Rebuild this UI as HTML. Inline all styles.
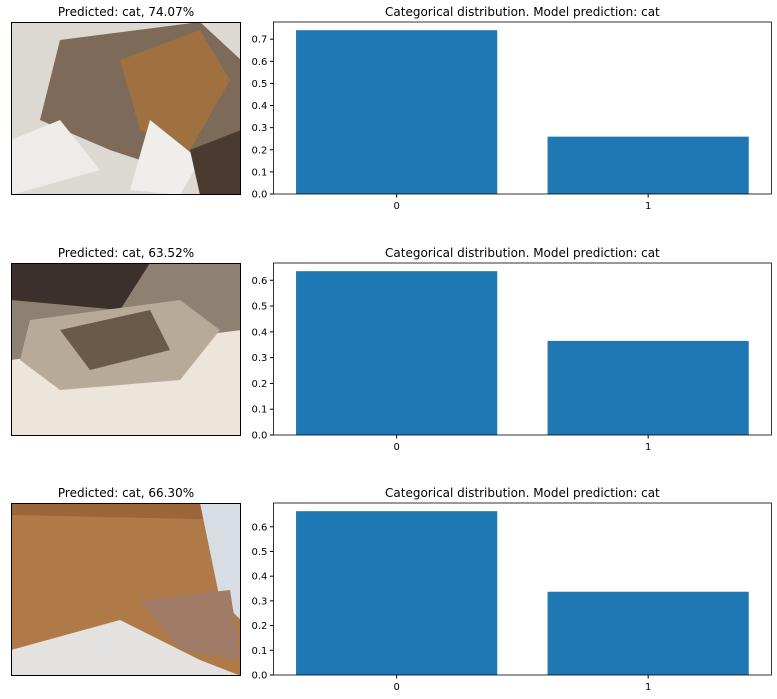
<!DOCTYPE html>
<html><head><meta charset="utf-8"><style>
body{margin:0;background:#fff;width:777px;height:699px;overflow:hidden;font-family:"DejaVu Sans","Liberation Sans",sans-serif}
svg{position:absolute;left:0;top:0}
</style></head><body>
<svg id="c" width="777" height="699">
<defs>
<clipPath id="cp1"><rect x="11.5" y="22.5" width="229" height="172"/></clipPath>
<clipPath id="cp2"><rect x="11.5" y="263.5" width="229" height="172"/></clipPath>
<clipPath id="cp3"><rect x="11.5" y="503.5" width="229" height="172"/></clipPath>
</defs>
<g clip-path="url(#cp1)">
<rect x="11" y="22" width="230" height="173" fill="#dcd9d3"/>
<path d="M60 40 L200 22 L241 60 L241 140 L170 170 L110 150 L40 120 Z" fill="#7d6a58"/>
<path d="M120 60 L200 30 L230 80 L190 150 L140 130 Z" fill="#a07040"/>
<path d="M150 120 L200 160 L180 195 L130 190 Z" fill="#efeeea"/>
<path d="M11 140 L60 120 L100 170 L11 195 Z" fill="#eeece8"/>
<path d="M190 150 L241 130 L241 195 L200 195 Z" fill="#4a3a30"/>
</g>
<g clip-path="url(#cp2)">
<rect x="11" y="263" width="230" height="173" fill="#8f8172"/>
<path d="M11 263 L150 263 L120 310 L11 300 Z" fill="#3b302c"/>
<path d="M11 360 L241 330 L241 436 L11 436 Z" fill="#ece5da"/>
<path d="M30 320 L180 300 L220 330 L180 380 L60 390 L20 360 Z" fill="#b8aa98"/>
<path d="M60 330 L150 310 L170 350 L90 370 Z" fill="#6a5a4a"/>
</g>
<g clip-path="url(#cp3)">
<rect x="11" y="503" width="230" height="173" fill="#b07a48"/>
<path d="M11 503 L241 503 L241 520 L11 515 Z" fill="#9c6638"/>
<path d="M200 503 L241 503 L241 620 L220 600 Z" fill="#d8dde4"/>
<path d="M11 650 L120 620 L200 660 L241 676 L11 676 Z" fill="#e4e2e0"/>
<path d="M140 600 L230 590 L241 660 L180 650 Z" fill="#a07c66"/>
</g>
</svg>
<script>
const categories=['0','1'];
const row1Values=[0.7407,0.2593];
const row2Values=[0.6352,0.3648];
const row3Values=[0.6630,0.3370];
const predTitles=['Predicted: cat, 74.07%','Predicted: cat, 63.52%','Predicted: cat, 66.30%'];
const rows=[row1Values,row2Values,row3Values];
const ticks=[0,0.1,0.2,0.3,0.4,0.5,0.6,0.7];
const svg=document.getElementById('c');
const NS='http://www.w3.org/2000/svg';
function mk(t,a,p){const e=document.createElementNS(NS,t);for(const k in a)e.setAttribute(k,a[k]);(p||svg).appendChild(e);return e;}
const tops=[22,263,503],H=172,AL=273.4,AR=771.4;
rows.forEach((vals,r)=>{
  const top=tops[r],bot=top+H;
  const g=mk('g',{});
  
  
  const im=mk('rect',{x:11.5,y:top+0.5,width:229,height:H,fill:'none',stroke:'#000','stroke-width':1},g);
  
  
  const t1=mk('text',{x:126,y:top-6,'text-anchor':'middle','font-size':12},g);t1.textContent=predTitles[r];
  
  
  const ymax=Math.max(...vals)*1.05;
  const ys=v=>bot-v/ymax*H;
  const xs=v=>AL+(v+0.49)/1.98*(AR-AL);
  vals.forEach((v,i)=>{
    const b=mk('rect',{x:xs(i-0.4),y:ys(v),width:xs(i+0.4)-xs(i-0.4),height:bot-ys(v),fill:'#1f77b4'},g);
    
    
    mk('line',{x1:xs(i),x2:xs(i),y1:bot,y2:bot+3.5,stroke:'#000'},g);
    const tl=mk('text',{x:xs(i),y:bot+15,'text-anchor':'middle','font-size':10},g);tl.textContent=categories[i];
    
    
  });
  ticks.forEach(t=>{if(t>ymax)return;
    mk('line',{x1:AL-3.5,x2:AL,y1:ys(t),y2:ys(t),stroke:'#000'},g);
    const tl=mk('text',{x:AL-6,y:ys(t)+3.5,'text-anchor':'end','font-size':10},g);tl.textContent=t.toFixed(1);
    
    
  });
  const fr=mk('rect',{x:AL,y:top,width:AR-AL,height:H,fill:'none',stroke:'#000','stroke-width':0.8},g);
  
  
  const t2=mk('text',{x:(AL+AR)/2,y:top-6,'text-anchor':'middle','font-size':12},g);t2.textContent='Categorical distribution. Model prediction: cat';
  
  
});
</script>
</body></html>
